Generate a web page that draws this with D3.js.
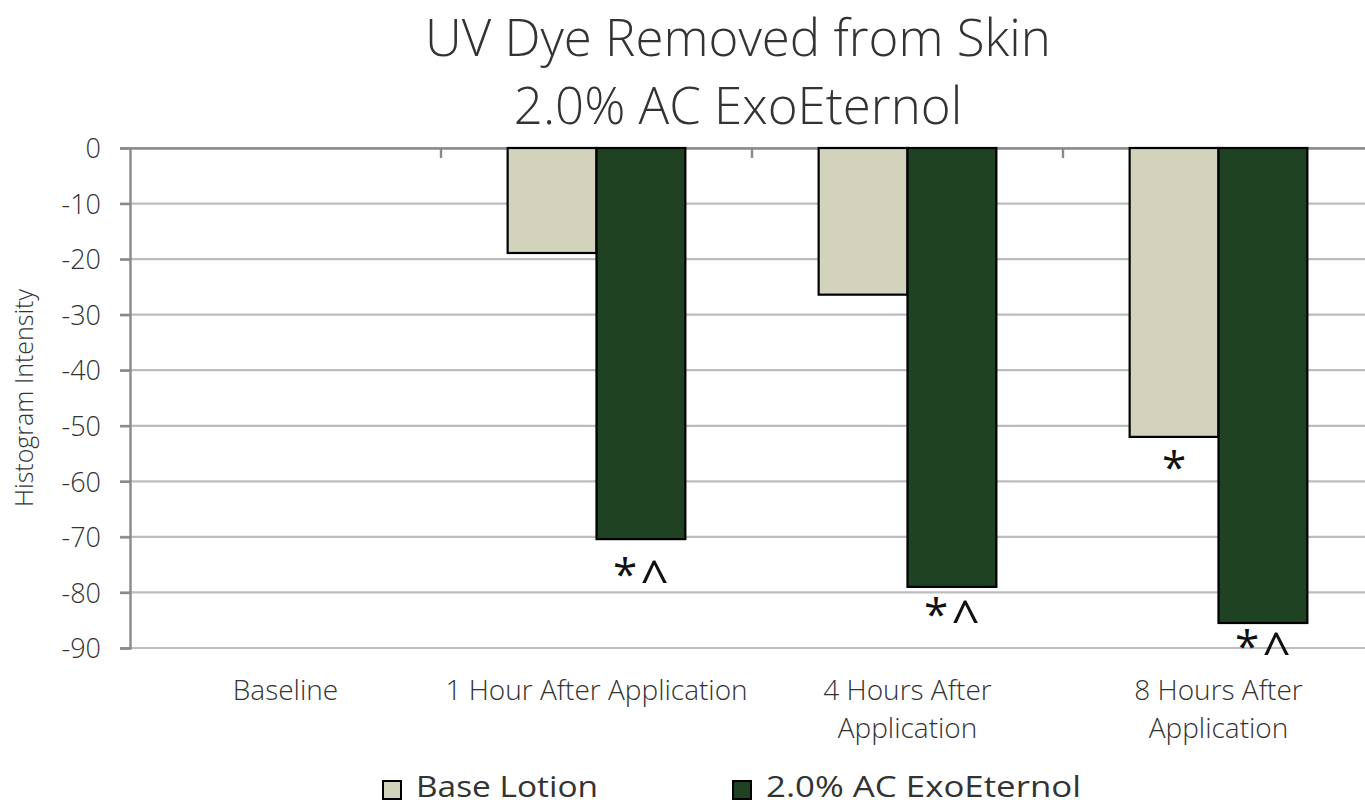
<!DOCTYPE html>
<html><head><meta charset="utf-8">
<script src="https://cdn.jsdelivr.net/npm/d3@7"></script>
<style>
html,body{margin:0;padding:0;background:#fff;overflow:hidden;}
text{font-family:"Open Sans","Noto Sans",sans-serif;fill:#333;}
</style></head>
<body>
<svg id="chart" width="1365" height="804"></svg>
<script>
const categories = [["Baseline"], ["1 Hour After Application"], ["4 Hours After", "Application"], ["8 Hours After", "Application"]];
const seriesNames = ["Base Lotion", "2.0% AC ExoEternol"];
const baseLotion = [0, -18.9, -26.4, -52.0];
const exoEternol = [0, -70.4, -79.0, -85.5];
const yTicks = [0, -10, -20, -30, -40, -50, -60, -70, -80, -90];
const titleLines = ["UV Dye Removed from Skin", "2.0% AC ExoEternol"];
const yTitle = "Histogram Intensity";
// annotations: [category index, series index, label]
const annotations = [[1, 1, "*^"], [2, 1, "*^"], [3, 0, "*"], [3, 1, "*^"]];

(function () {
const annotationGap = [18, 10, 13, 6];
const colors = ["#D3D2BD", "#1E4222"];
const svg = d3.select("#chart");
const mLeft = 130, mTop = 148, mBottom = 648, step = 311;
const x = d3.scaleBand().domain(d3.range(categories.length)).range([mLeft, mLeft + step * categories.length]).paddingInner(0).paddingOuter(0);
const xs = d3.scaleBand().domain([0, 1]).range([0, x.bandwidth()]).paddingInner(0).paddingOuter(0.75);
const y = d3.scaleLinear().domain([0, -90]).range([mTop, mBottom]);

// gridlines
svg.append("g").selectAll("line").data(yTicks).join("line")
  .attr("x1", mLeft - 10).attr("x2", 1365)
  .attr("y1", d => y(d)).attr("y2", d => y(d))
  .attr("stroke", "#BDBDBD").attr("stroke-width", 2.2);

// y axis
const yAxis = svg.append("g").attr("transform", `translate(${mLeft},0)`)
  .call(d3.axisLeft(y).tickValues(yTicks).tickSize(10).tickPadding(19).tickFormat(d => String(d)));
yAxis.select(".domain").attr("stroke", "#8A8A8A").attr("stroke-width", 2.4);
yAxis.selectAll(".tick line").attr("stroke", "#8A8A8A").attr("stroke-width", 2.4);
yAxis.selectAll(".tick text").attr("font-size", 27).attr("font-weight", 300).attr("fill", "#333")
  .attr("font-family", "Open Sans").attr("dy", "0.36em");

// category axis at zero
const xAxis = svg.append("g").attr("transform", `translate(0,${y(0)})`)
  .call(d3.axisBottom(x).tickSize(0).tickFormat(""));
xAxis.select(".domain").attr("stroke", "#8A8A8A").attr("stroke-width", 2.4);
svg.append("g").selectAll("line").data(d3.range(1, categories.length)).join("line")
  .attr("x1", d => x(d)).attr("x2", d => x(d))
  .attr("y1", y(0)).attr("y2", y(0) + 10)
  .attr("stroke", "#8A8A8A").attr("stroke-width", 2.4);

// bars
const series = [baseLotion, exoEternol];
series.forEach((vals, si) => {
  svg.append("g").selectAll("rect").data(vals.map((v, i) => ({v, i})).filter(d => d.v !== 0)).join("rect")
    .attr("x", d => x(d.i) + xs(si))
    .attr("width", xs.bandwidth())
    .attr("y", d => y(0))
    .attr("height", d => y(d.v) - y(0))
    .attr("fill", colors[si]).attr("stroke", "#000").attr("stroke-width", 2.2);
});

// annotations
const ann = svg.append("g").selectAll("text").data(annotations).join("text")
  .attr("x", d => x(d[0]) + xs(d[1]) + xs.bandwidth() / 2)
  .attr("y", (d, i) => y(series[d[1]][d[0]]) + annotationGap[i] + 33)
  .attr("text-anchor", "middle")
  .attr("fill", "#111");
ann.each(function (d) {
  const t = d3.select(this);
  d[2].split("").forEach((ch, k) => {
    const isCaret = ch === "^";
    t.append("tspan").attr("font-size", isCaret ? 50 : 44)
      .attr("dx", k > 0 ? 3 : 0).attr("dy", isCaret ? 6 : 0).attr("fill", "#111").text(ch);
  });
});

// category labels
const catG = svg.append("g");
categories.forEach((lines, i) => {
  lines.forEach((ln, j) => {
    catG.append("text").attr("x", x(i) + x.bandwidth() / 2).attr("y", 700 + j * 38)
      .attr("text-anchor", "middle").attr("font-size", 28).attr("font-weight", 300)
      .attr("fill", "#333").text(ln);
  });
});

// title
titleLines.forEach((t, i) => {
  svg.append("text").attr("x", 738).attr("y", 56 + i * 68).attr("text-anchor", "middle")
    .attr("font-size", 51).attr("font-weight", 300).attr("fill", "#111").text(t);
});

// y title
svg.append("text").attr("transform", "translate(33,398) rotate(-90)")
  .attr("text-anchor", "middle").attr("font-size", 25).attr("font-weight", 300).text(yTitle);

// legend
const legendX = [383, 733];
const legendW = [182, 315];
seriesNames.forEach((n, i) => {
  svg.append("rect").attr("x", legendX[i]).attr("y", 781).attr("width", 18).attr("height", 18)
    .attr("fill", colors[i]).attr("stroke", "#000").attr("stroke-width", 2);
  svg.append("text").attr("x", legendX[i] + 33).attr("y", 797).attr("font-size", 29)
    .attr("textLength", legendW[i]).attr("lengthAdjust", "spacingAndGlyphs")
    .attr("fill", "#222").text(n);
});
})();
</script>
</body></html>
